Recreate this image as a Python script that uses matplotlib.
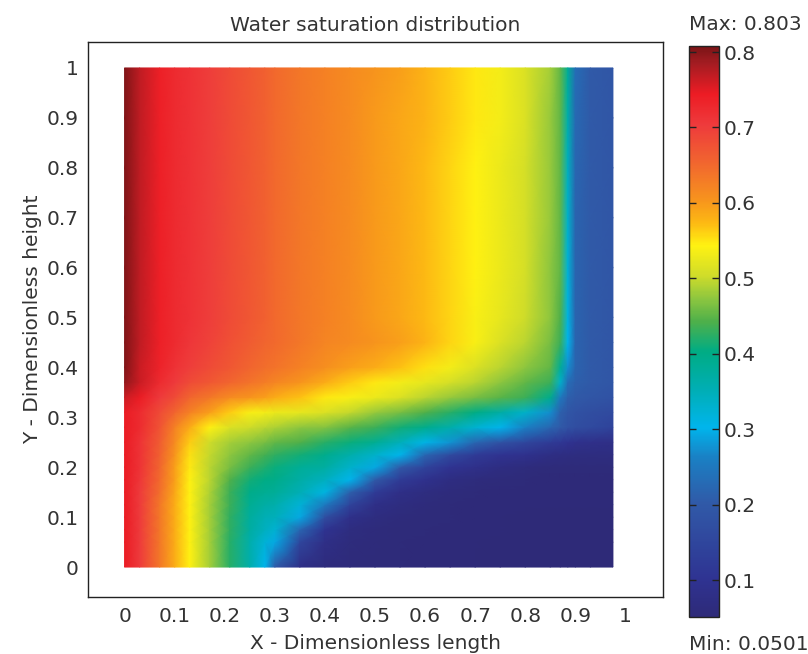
import numpy as np
import matplotlib
matplotlib.use('Agg')
import matplotlib.pyplot as plt
from matplotlib.colors import LinearSegmentedColormap, Normalize
from matplotlib.cm import ScalarMappable

title = "Water saturation distribution"
xlabel = "X - Dimensionless length"
ylabel = "Y - Dimensionless height"
x_ticks = [0, 0.1, 0.2, 0.3, 0.4, 0.5, 0.6, 0.7, 0.8, 0.9, 1]
y_ticks = [0, 0.1, 0.2, 0.3, 0.4, 0.5, 0.6, 0.7, 0.8, 0.9, 1]
x_tick_labels = ['0', '0.1', '0.2', '0.3', '0.4', '0.5', '0.6', '0.7', '0.8', '0.9', '1']
y_tick_labels = ['0', '0.1', '0.2', '0.3', '0.4', '0.5', '0.6', '0.7', '0.8', '0.9', '1']
bar_ticks = [0.1, 0.2, 0.3, 0.4, 0.5, 0.6, 0.7, 0.8]
val_min = 0.0501
val_max = 0.803

# sample positions, denser where the saturation front is sharp
x = [0, .03, .07, .1, .13, .17, .21, .25, .28, .3, .35, .4, .45, .5, .55, .6, .65, .7, .75, .8, .85, .87, .885, .9, .93, .975]
y = [0, .05, .075, .1, .125, .15, .175, .2, .225, .25, .28, .31, .34, .37, .4, .45, .5, .6, .7, .8, .9, 1]

# saturation, one row per y
sat = [
    [.74, .70, .63, .58, .54, .48, .42, .36, .30, .20, .08, .06, .057, .055, .054, .053, .052, .052, .051, .051, .051, .051, .051, .051, .051, .0501],
    [.74, .70, .63, .58, .54, .48, .42, .36, .32, .29, .15, .08, .06, .056, .054, .053, .052, .052, .051, .051, .051, .051, .051, .051, .051, .051],
    [.74, .70, .63, .58, .54, .48, .425, .37, .34, .325, .22, .10, .065, .058, .055, .054, .053, .052, .052, .051, .051, .051, .051, .051, .051, .051],
    [.74, .70, .63, .58, .54, .48, .425, .375, .35, .345, .29, .17, .085, .065, .058, .055, .054, .053, .052, .051, .051, .051, .051, .051, .051, .051],
    [.74, .70, .63, .58, .54, .48, .43, .385, .365, .36, .32, .25, .14, .08, .065, .058, .055, .053, .052, .052, .052, .052, .052, .052, .052, .052],
    [.74, .70, .64, .585, .54, .485, .43, .395, .385, .38, .35, .31, .21, .12, .08, .065, .058, .054, .053, .052, .052, .052, .052, .052, .052, .052],
    [.74, .705, .645, .59, .54, .49, .44, .41, .40, .395, .365, .34, .30, .20, .12, .09, .07, .06, .056, .054, .053, .053, .053, .053, .053, .053],
    [.74, .71, .65, .59, .545, .49, .46, .43, .415, .405, .38, .37, .33, .29, .20, .14, .10, .085, .07, .06, .055, .055, .055, .055, .055, .055],
    [.74, .71, .655, .60, .55, .495, .47, .45, .435, .425, .41, .39, .36, .33, .30, .22, .16, .12, .10, .09, .075, .07, .068, .066, .065, .065],
    [.74, .71, .66, .61, .56, .50, .48, .47, .46, .45, .44, .42, .405, .385, .345, .305, .275, .22, .18, .15, .12, .11, .10, .09, .085, .08],
    [.74, .72, .67, .62, .58, .54, .51, .50, .49, .485, .47, .465, .445, .43, .41, .39, .36, .325, .30, .26, .22, .20, .18, .17, .16, .14],
    [.74, .72, .68, .65, .62, .59, .56, .535, .53, .525, .52, .51, .495, .475, .46, .44, .42, .40, .365, .33, .27, .21, .19, .18, .17, .16],
    [.76, .74, .70, .68, .65, .63, .61, .60, .59, .58, .565, .545, .535, .525, .51, .49, .475, .46, .445, .43, .39, .25, .21, .20, .19, .18],
    [.79, .76, .72, .70, .68, .665, .65, .635, .625, .615, .60, .58, .56, .545, .53, .52, .505, .49, .47, .45, .43, .33, .23, .21, .20, .19],
    [.80, .76, .73, .71, .695, .68, .665, .65, .64, .635, .62, .605, .59, .58, .565, .55, .53, .51, .49, .47, .45, .38, .27, .215, .20, .19],
    [.80, .765, .735, .72, .705, .69, .675, .66, .65, .645, .63, .615, .61, .60, .59, .575, .555, .535, .51, .49, .46, .43, .30, .215, .20, .19],
    [.80, .765, .735, .72, .71, .695, .68, .665, .655, .645, .63, .62, .61, .595, .585, .57, .555, .535, .52, .50, .47, .44, .31, .215, .20, .19],
    [.80, .765, .735, .72, .71, .695, .68, .665, .655, .645, .63, .62, .61, .595, .585, .57, .555, .54, .525, .505, .47, .45, .32, .215, .20, .19],
    [.80, .765, .735, .72, .71, .695, .68, .665, .655, .645, .63, .62, .61, .595, .585, .57, .555, .54, .525, .505, .475, .45, .33, .215, .20, .19],
    [.80, .765, .735, .72, .71, .695, .68, .665, .655, .645, .63, .62, .61, .595, .585, .57, .555, .54, .525, .505, .475, .45, .34, .22, .20, .19],
    [.80, .765, .735, .72, .71, .695, .68, .665, .655, .645, .63, .62, .61, .595, .585, .575, .56, .545, .53, .51, .475, .45, .36, .225, .20, .19],
    [.80, .765, .735, .72, .71, .695, .68, .665, .655, .645, .63, .62, .61, .60, .59, .575, .56, .545, .53, .51, .48, .45, .38, .23, .20, .19],
]

# colour stops of the bar, value then colour
stop_values = [.0501, .1, .2, .26, .3, .35, .4, .44, .47, .5, .54, .57, .6, .65, .7, .74, .78, .803]
stop_colors = ['#2e2a78', '#2f3392', '#305aa8', '#1a80c4', '#00b5ec', '#00aeb4', '#00ac84', '#4fb04a',
               '#8dc63f', '#cfdc2a', '#fff212', '#fdb913', '#f7941d', '#f1652f', '#ee3a3c', '#ed1c24',
               '#a51c22', '#7a1416']

plt.rcParams['font.family'] = ['DejaVu Sans']
text_col = '#333333'
fs = 14.5

cmap = LinearSegmentedColormap.from_list(
    'sat', [((v - val_min) / (val_max - val_min), c) for v, c in zip(stop_values, stop_colors)], N=512)
norm = Normalize(val_min, val_max)

W, H = 808, 654
fig = plt.figure(figsize=(W / 100, H / 100), dpi=100)

# frame at px 88..663 / 42..597
ax = fig.add_axes([88 / W, 1 - 597 / H, 575 / W, 555 / H])
ax.pcolormesh(x, y, np.array(sat), cmap=cmap, norm=norm, shading='gouraud')
ax.set_xlim(-0.073, 1.075)
ax.set_ylim(-0.06, 1.052)
ax.set_xticks(x_ticks)
ax.set_xticklabels(x_tick_labels)
ax.set_yticks(y_ticks)
ax.set_yticklabels(y_tick_labels)
ax.tick_params(length=0, labelsize=fs, labelcolor=text_col, pad=7)
for s in ax.spines.values():
    s.set_linewidth(1.0)
    s.set_color('#222222')
ax.set_title(title, fontsize=fs, color=text_col, pad=8)
ax.set_xlabel(xlabel, fontsize=fs, color=text_col, labelpad=6)
ax.set_ylabel(ylabel, fontsize=fs, color=text_col, labelpad=3)

# colour bar at px 689..719 / 46..617, its scale runs a little past the max label
cax = fig.add_axes([689 / W, 1 - 617 / H, 30 / W, 571 / H])
cb = fig.colorbar(ScalarMappable(norm=Normalize(0.051, 0.808), cmap=cmap), cax=cax)
cb.set_ticks(bar_ticks)
cb.set_ticklabels([str(v) for v in bar_ticks])
cb.ax.tick_params(direction='in', left=True, right=True, length=5, width=1, color='#222222',
                  labelsize=fs, labelcolor=text_col, pad=3)
cb.outline.set_linewidth(1.0)
cb.outline.set_edgecolor('#222222')

fig.text(689 / W, 1 - 25 / H, 'Max: %.3f' % val_max, fontsize=fs, color=text_col, va='center')
fig.text(689 / W, 1 - 645 / H, 'Min: %.4f' % val_min, fontsize=fs, color=text_col, va='center')

fig.savefig('out.png', dpi=100)
